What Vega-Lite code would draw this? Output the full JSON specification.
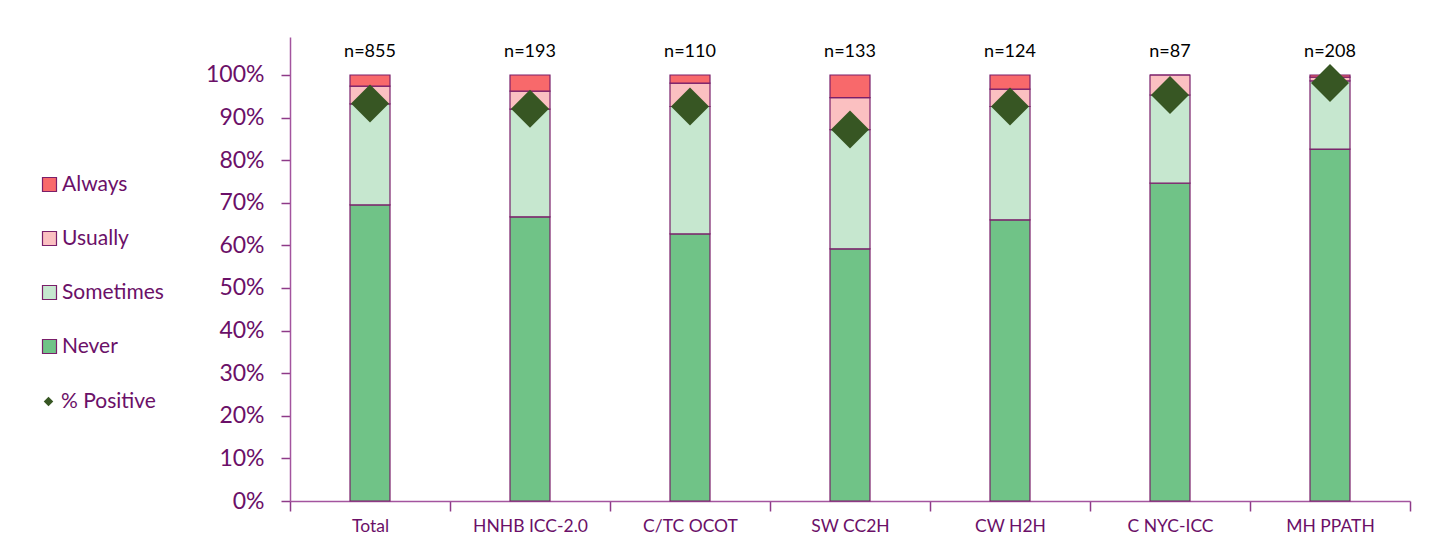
{
  "$schema": "https://vega.github.io/schema/vega-lite/v6.json",
  "autosize": {"type": "none"},
  "width": 1120,
  "height": 464,
  "padding": {"left": 290, "top": 37, "right": 36, "bottom": 59},
  "background": "white",
  "config": {
    "view": {"stroke": null},
    "font": "Lato"
  },
  "layer": [
    {
      "data": {"values": [
        {"group": "Total", "response": "Never", "ord": 1, "value": 0.695},
        {"group": "Total", "response": "Sometimes", "ord": 2, "value": 0.237},
        {"group": "Total", "response": "Usually", "ord": 3, "value": 0.042},
        {"group": "Total", "response": "Always", "ord": 4, "value": 0.026},
        {"group": "HNHB ICC-2.0", "response": "Never", "ord": 1, "value": 0.667},
        {"group": "HNHB ICC-2.0", "response": "Sometimes", "ord": 2, "value": 0.253},
        {"group": "HNHB ICC-2.0", "response": "Usually", "ord": 3, "value": 0.042},
        {"group": "HNHB ICC-2.0", "response": "Always", "ord": 4, "value": 0.038},
        {"group": "C/TC OCOT", "response": "Never", "ord": 1, "value": 0.627},
        {"group": "C/TC OCOT", "response": "Sometimes", "ord": 2, "value": 0.299},
        {"group": "C/TC OCOT", "response": "Usually", "ord": 3, "value": 0.055},
        {"group": "C/TC OCOT", "response": "Always", "ord": 4, "value": 0.019},
        {"group": "SW CC2H", "response": "Never", "ord": 1, "value": 0.592},
        {"group": "SW CC2H", "response": "Sometimes", "ord": 2, "value": 0.280},
        {"group": "SW CC2H", "response": "Usually", "ord": 3, "value": 0.075},
        {"group": "SW CC2H", "response": "Always", "ord": 4, "value": 0.053},
        {"group": "CW H2H", "response": "Never", "ord": 1, "value": 0.660},
        {"group": "CW H2H", "response": "Sometimes", "ord": 2, "value": 0.266},
        {"group": "CW H2H", "response": "Usually", "ord": 3, "value": 0.041},
        {"group": "CW H2H", "response": "Always", "ord": 4, "value": 0.033},
        {"group": "C NYC-ICC", "response": "Never", "ord": 1, "value": 0.746},
        {"group": "C NYC-ICC", "response": "Sometimes", "ord": 2, "value": 0.207},
        {"group": "C NYC-ICC", "response": "Usually", "ord": 3, "value": 0.047},
        {"group": "C NYC-ICC", "response": "Always", "ord": 4, "value": 0.0},
        {"group": "MH PPATH", "response": "Never", "ord": 1, "value": 0.826},
        {"group": "MH PPATH", "response": "Sometimes", "ord": 2, "value": 0.160},
        {"group": "MH PPATH", "response": "Usually", "ord": 3, "value": 0.009},
        {"group": "MH PPATH", "response": "Always", "ord": 4, "value": 0.005}
      ]},
      "mark": {"type": "bar", "stroke": "#7A1F6A", "strokeWidth": 1.2, "width": {"band": 0.25}},
      "encoding": {
        "x": {"field": "group", "type": "nominal", "sort": null},
        "y": {"field": "value", "type": "quantitative", "stack": "zero"},
        "order": {"field": "ord", "type": "quantitative"},
        "color": {
          "field": "response", "type": "nominal",
          "scale": {
            "domain": ["Always", "Usually", "Sometimes", "Never"],
            "range": ["#F8696B", "#FBC0C1", "#C6E7CF", "#70C387"]
          },
          "legend": {
            "title": null, "orient": "none", "legendX": -251, "legendY": 137,
            "labelFontSize": 21, "labelColor": "#6B1068", "labelFont": "Lato", "labelOffset": 2,
            "rowPadding": 32, "symbolSize": 196, "symbolType": "square",
            "symbolStrokeColor": "#7A1F6A", "symbolStrokeWidth": 1.2, "symbolOpacity": 1
          }
        }
      }
    },
    {
      "data": {"values": [
        {"group": "Total", "series": "% Positive", "value": 0.933},
        {"group": "HNHB ICC-2.0", "series": "% Positive", "value": 0.921},
        {"group": "C/TC OCOT", "series": "% Positive", "value": 0.926},
        {"group": "SW CC2H", "series": "% Positive", "value": 0.872},
        {"group": "CW H2H", "series": "% Positive", "value": 0.926},
        {"group": "C NYC-ICC", "series": "% Positive", "value": 0.953},
        {"group": "MH PPATH", "series": "% Positive", "value": 0.981}
      ]},
      "mark": {"type": "point", "filled": true, "size": 1444, "opacity": 1, "strokeWidth": 0, "color": "#375623"},
      "encoding": {
        "x": {"field": "group", "type": "nominal", "sort": null},
        "y": {"field": "value", "type": "quantitative"},
        "shape": {
          "field": "series", "type": "nominal",
          "scale": {"domain": ["% Positive"], "range": ["diamond"]},
          "legend": {
            "title": null, "orient": "none", "legendX": -252, "legendY": 354,
            "labelFontSize": 21, "labelColor": "#6B1068", "labelFont": "Lato", "labelOffset": 2,
            "symbolSize": 90, "symbolFillColor": "#375623", "symbolStrokeWidth": 0, "symbolOpacity": 1
          }
        }
      }
    },
    {
      "data": {"values": [
        {"group": "Total", "n": "n=855"},
        {"group": "HNHB ICC-2.0", "n": "n=193"},
        {"group": "C/TC OCOT", "n": "n=110"},
        {"group": "SW CC2H", "n": "n=133"},
        {"group": "CW H2H", "n": "n=124"},
        {"group": "C NYC-ICC", "n": "n=87"},
        {"group": "MH PPATH", "n": "n=208"}
      ]},
      "mark": {"type": "text", "fontSize": 18, "baseline": "middle", "font": "Lato", "color": "#000000"},
      "encoding": {
        "x": {"field": "group", "type": "nominal", "sort": null},
        "y": {"datum": 1.054},
        "text": {"field": "n"}
      }
    }
  ],
  "resolve": {"scale": {"x": "shared", "y": "shared"}},
  "encoding": {
    "x": {
      "field": "group", "type": "nominal", "sort": null,
      "scale": {"domain": ["Total", "HNHB ICC-2.0", "C/TC OCOT", "SW CC2H", "CW H2H", "C NYC-ICC", "MH PPATH"], "paddingInner": 0, "paddingOuter": 0},
      "axis": {
        "title": null, "labelAngle": 0, "labelFontSize": 17.5, "labelColor": "#6B1068", "labelFont": "Lato",
        "domainColor": "#A3549E", "domainWidth": 1.5, "ticks": true, "tickColor": "#8E3A88", "tickWidth": 1.5, "tickSize": 10,
        "tickBand": "extent", "labelPadding": 6
      }
    },
    "y": {
      "type": "quantitative",
      "scale": {"domain": [0, 1.0892], "nice": false},
      "axis": {
        "title": null, "values": [0, 0.1, 0.2, 0.3, 0.4, 0.5, 0.6, 0.7, 0.8, 0.9, 1.0], "format": ".0%",
        "labelFontSize": 23, "labelColor": "#6B1068", "labelFont": "Lato", "grid": false,
        "domainColor": "#A3549E", "domainWidth": 1.5, "ticks": true, "tickColor": "#8E3A88", "tickWidth": 1.5, "tickSize": 9,
        "labelPadding": 17
      }
    }
  }
}
